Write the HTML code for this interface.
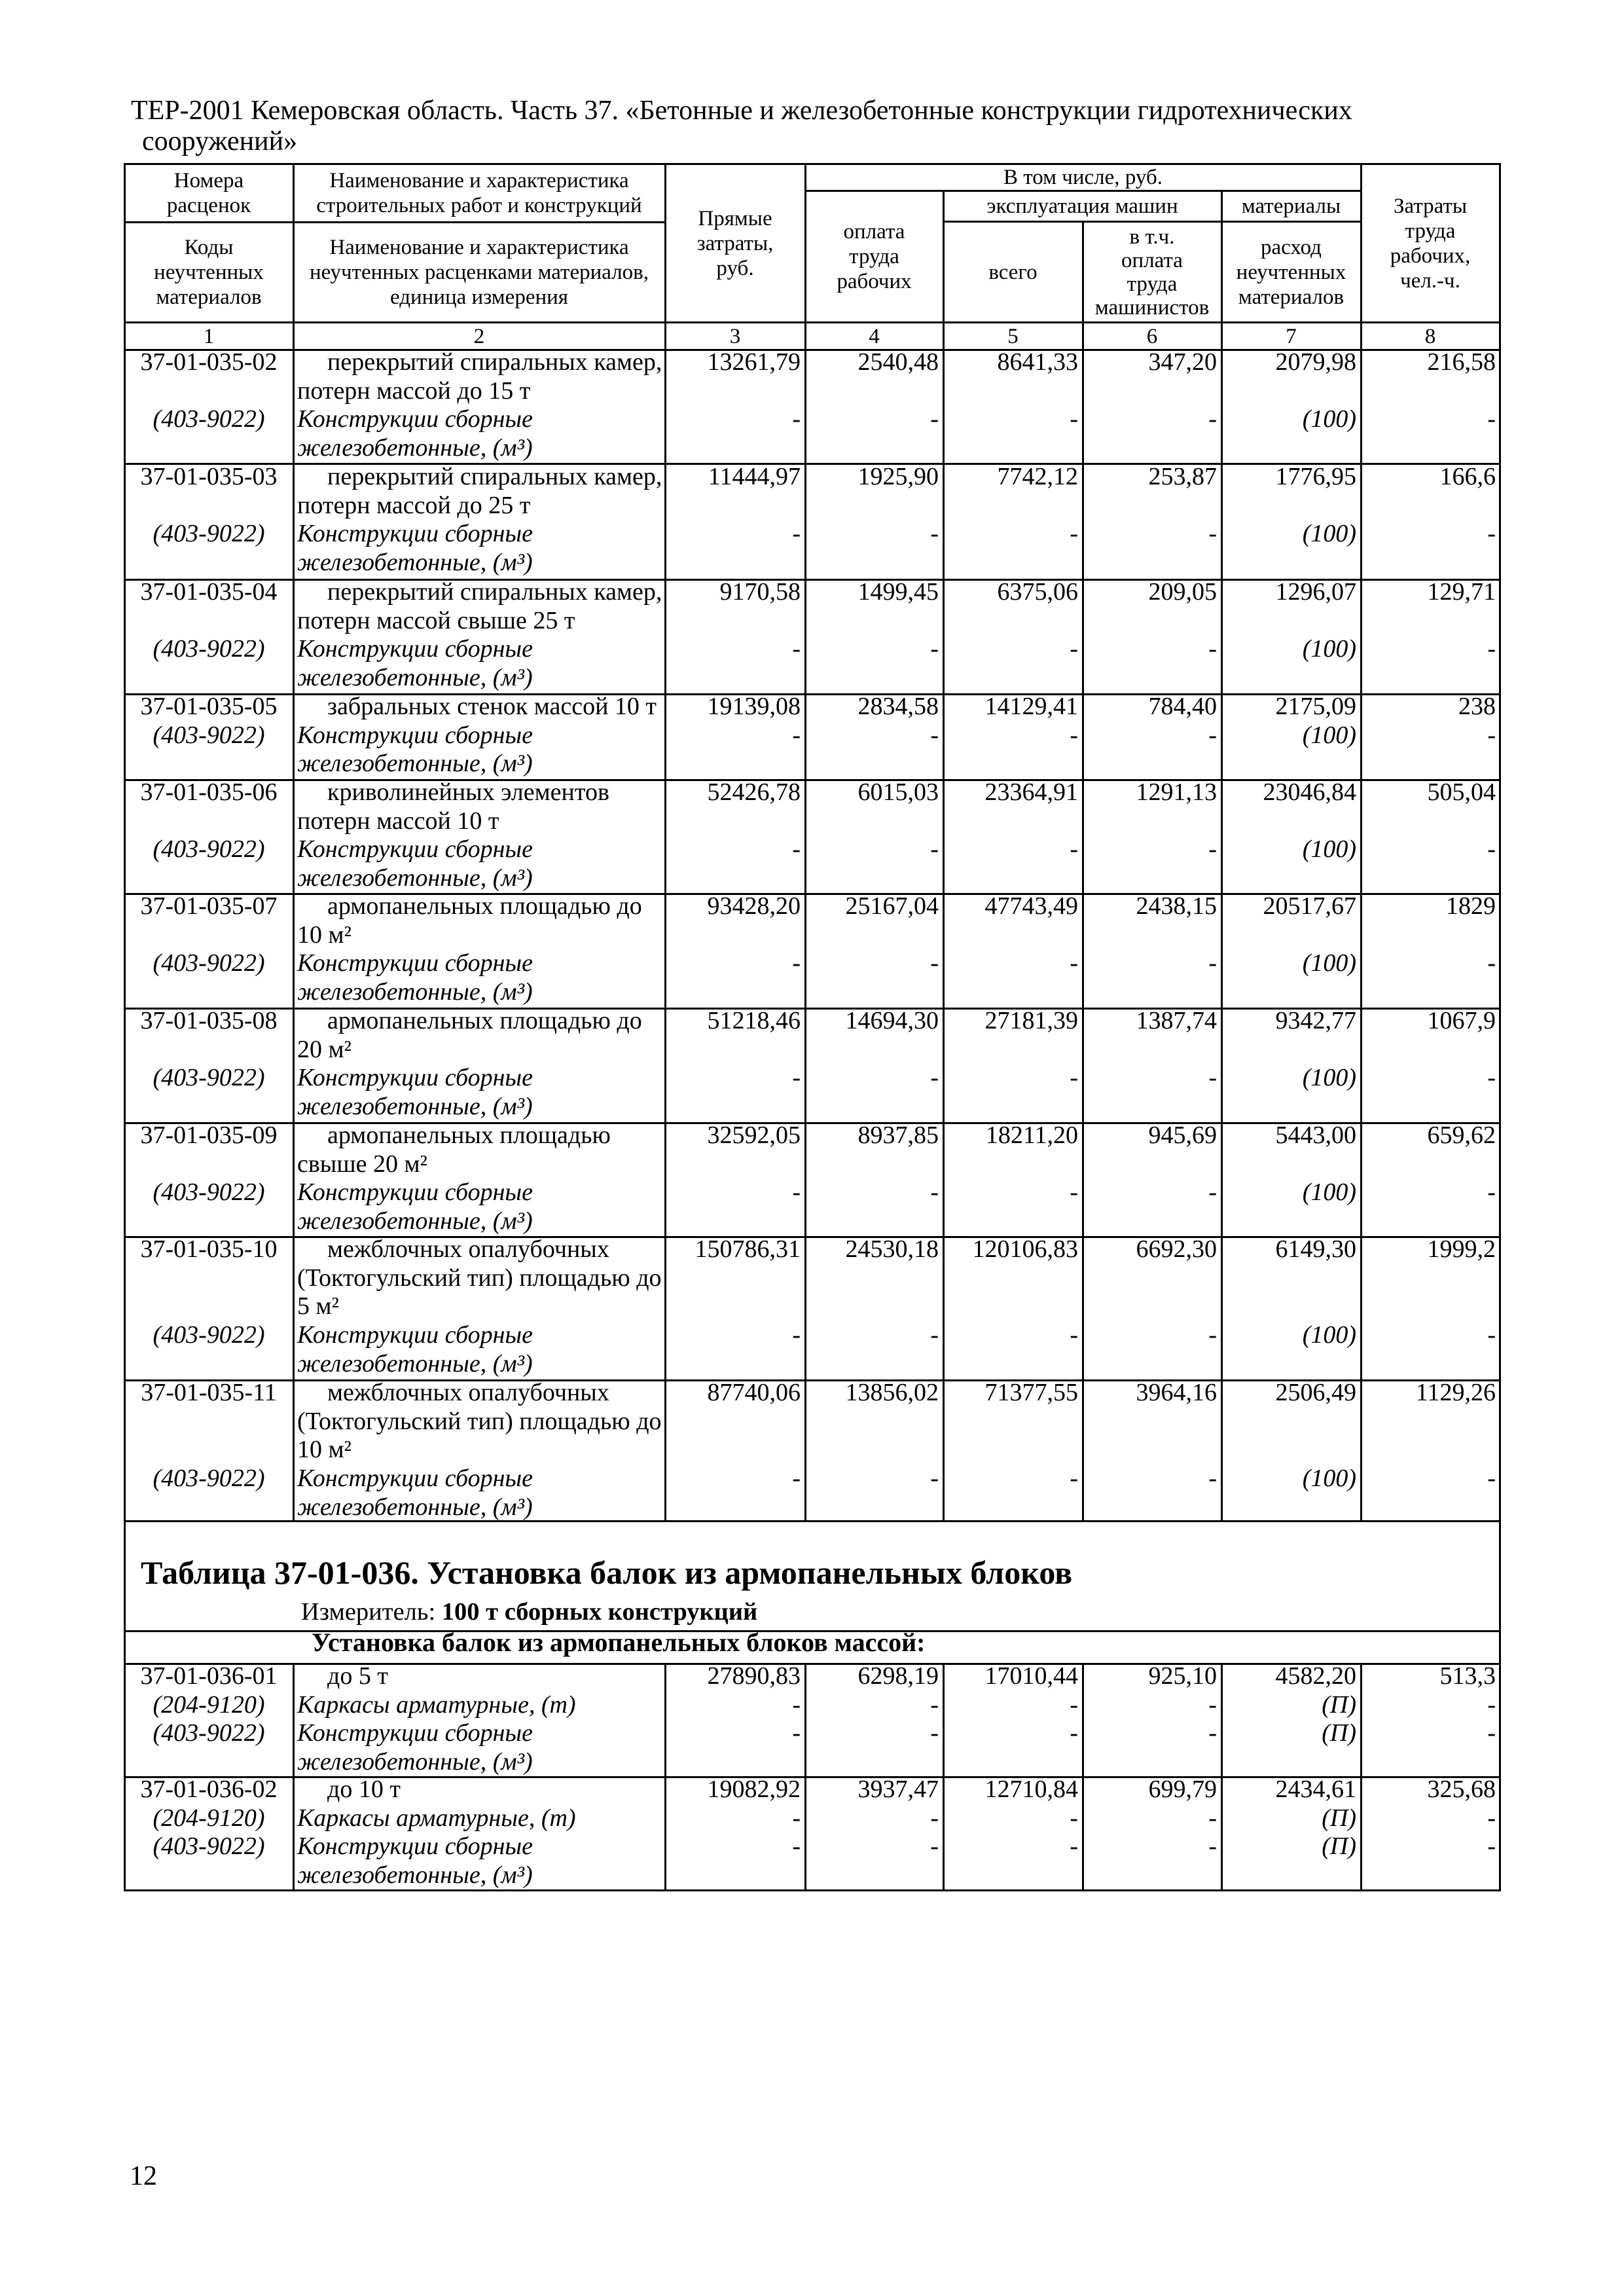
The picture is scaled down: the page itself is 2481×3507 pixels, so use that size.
<!DOCTYPE html>
<html><head><meta charset="utf-8">
<style>
*{margin:0;padding:0}
body{width:2481px;height:3507px;background:#fff;position:relative;overflow:hidden;font-family:"Liberation Serif","DejaVu Serif",serif;color:#000}
.h,.v{position:absolute;background:#000}
.h{height:3px}
.v{width:3px}
.t{position:absolute;white-space:nowrap}
.c{position:absolute;font-size:38px;line-height:43.7px;white-space:nowrap}
.c1{left:192px;width:254px;text-align:center}
.c2{left:454px;width:560px}
.c3{left:1016px;width:207px;text-align:right}
.c4{left:1230px;width:204px;text-align:right}
.c5{left:1441px;width:206px;text-align:right}
.c6{left:1654px;width:205px;text-align:right}
.c7{left:1866px;width:206px;text-align:right}
.c8{left:2079px;width:206px;text-align:right}
.ind{padding-left:46px}
.hd{position:absolute;display:flex;align-items:center;justify-content:center;text-align:center;font-size:33px;line-height:38px}
i{font-style:italic}
</style></head><body>

<div class="t" style="left:200px;top:145px;font-size:42px;line-height:48px">ТЕР-2001 Кемеровская область. Часть 37. «Бетонные и железобетонные конструкции гидротехнических</div>
<div class="t" style="left:217px;top:192px;font-size:42px;line-height:48px">сооружений»</div>

<div class="h" style="left:189px;width:2104px;top:249px"></div>
<div class="h" style="left:1230px;width:850px;top:290px"></div>
<div class="h" style="left:1441px;width:639px;top:337px"></div>
<div class="h" style="left:189px;width:828px;top:338px"></div>
<div class="h" style="left:189px;width:2104px;top:491px"></div>
<div class="h" style="left:189px;width:2104px;top:533px"></div>
<div class="h" style="left:189px;width:2104px;top:707px"></div>
<div class="h" style="left:189px;width:2104px;top:884px"></div>
<div class="h" style="left:189px;width:2104px;top:1059px"></div>
<div class="h" style="left:189px;width:2104px;top:1190px"></div>
<div class="h" style="left:189px;width:2104px;top:1364px"></div>
<div class="h" style="left:189px;width:2104px;top:1539px"></div>
<div class="h" style="left:189px;width:2104px;top:1714px"></div>
<div class="h" style="left:189px;width:2104px;top:1888px"></div>
<div class="h" style="left:189px;width:2104px;top:2107px"></div>
<div class="h" style="left:189px;width:2104px;top:2322px"></div>
<div class="h" style="left:189px;width:2104px;top:2490px"></div>
<div class="h" style="left:189px;width:2104px;top:2540px"></div>
<div class="h" style="left:189px;width:2104px;top:2713px"></div>
<div class="h" style="left:189px;width:2104px;top:2886px"></div>

<div class="v" style="left:189px;top:249px;height:2640px"></div>
<div class="v" style="left:2290px;top:249px;height:2640px"></div>
<div class="v" style="left:447px;top:249px;height:2075px"></div>
<div class="v" style="left:1015px;top:249px;height:2075px"></div>
<div class="v" style="left:1229px;top:249px;height:2075px"></div>
<div class="v" style="left:1440px;top:290px;height:2034px"></div>
<div class="v" style="left:1653px;top:337px;height:1987px"></div>
<div class="v" style="left:1865px;top:290px;height:2034px"></div>
<div class="v" style="left:2078px;top:249px;height:2075px"></div>
<div class="v" style="left:447px;top:2540px;height:348px"></div>
<div class="v" style="left:1015px;top:2540px;height:348px"></div>
<div class="v" style="left:1229px;top:2540px;height:348px"></div>
<div class="v" style="left:1440px;top:2540px;height:348px"></div>
<div class="v" style="left:1653px;top:2540px;height:348px"></div>
<div class="v" style="left:1865px;top:2540px;height:348px"></div>
<div class="v" style="left:2078px;top:2540px;height:348px"></div>

<div class="hd" style="left:190px;width:258px;top:251px;height:88px">Номера<br>расценок</div>
<div class="hd" style="left:448px;width:568px;top:251px;height:88px">Наименование и характеристика<br>строительных работ и конструкций</div>
<div class="hd" style="left:190px;width:258px;top:340px;height:152px">Коды<br>неучтенных<br>материалов</div>
<div class="hd" style="left:448px;width:568px;top:340px;height:152px">Наименование и характеристика<br>неучтенных расценками материалов,<br>единица измерения</div>
<div class="hd" style="left:1016px;width:214px;top:251px;height:241px">Прямые<br>затраты,<br>руб.</div>
<div class="hd" style="left:1230px;width:849px;top:251px;height:40px">В том числе, руб.</div>
<div class="hd" style="left:1230px;width:211px;top:292px;height:200px">оплата<br>труда<br>рабочих</div>
<div class="hd" style="left:1441px;width:425px;top:292px;height:46px">эксплуатация машин</div>
<div class="hd" style="left:1866px;width:213px;top:292px;height:46px">материалы</div>
<div class="hd" style="left:1441px;width:213px;top:339px;height:153px">всего</div>
<div class="hd" style="left:1654px;width:212px;top:339px;height:153px;line-height:36px">в т.ч.<br>оплата<br>труда<br>машинистов</div>
<div class="hd" style="left:1866px;width:213px;top:339px;height:153px">расход<br>неучтенных<br>материалов</div>
<div class="hd" style="left:2079px;width:212px;top:251px;height:241px">Затраты<br>труда<br>рабочих,<br>чел.-ч.</div>

<div class="hd" style="left:190px;width:258px;top:493px;height:41px">1</div>
<div class="hd" style="left:448px;width:568px;top:493px;height:41px">2</div>
<div class="hd" style="left:1016px;width:214px;top:493px;height:41px">3</div>
<div class="hd" style="left:1230px;width:211px;top:493px;height:41px">4</div>
<div class="hd" style="left:1441px;width:213px;top:493px;height:41px">5</div>
<div class="hd" style="left:1654px;width:212px;top:493px;height:41px">6</div>
<div class="hd" style="left:1866px;width:213px;top:493px;height:41px">7</div>
<div class="hd" style="left:2079px;width:212px;top:493px;height:41px">8</div>

<div class="c c1" style="top:532px">37-01-035-02<br><br><i>(403-9022)</i></div>
<div class="c c2" style="top:532px"><span class="ind">перекрытий спиральных камер,</span><br>потерн массой до 15 т<br><i>Конструкции сборные<br>железобетонные, (м³)</i></div>
<div class="c c3" style="top:532px">13261,79<br><br>-</div>
<div class="c c4" style="top:532px">2540,48<br><br>-</div>
<div class="c c5" style="top:532px">8641,33<br><br>-</div>
<div class="c c6" style="top:532px">347,20<br><br>-</div>
<div class="c c7" style="top:532px">2079,98<br><br><i>(100)</i></div>
<div class="c c8" style="top:532px">216,58<br><br>-</div>

<div class="c c1" style="top:707px">37-01-035-03<br><br><i>(403-9022)</i></div>
<div class="c c2" style="top:707px"><span class="ind">перекрытий спиральных камер,</span><br>потерн массой до 25 т<br><i>Конструкции сборные<br>железобетонные, (м³)</i></div>
<div class="c c3" style="top:707px">11444,97<br><br>-</div>
<div class="c c4" style="top:707px">1925,90<br><br>-</div>
<div class="c c5" style="top:707px">7742,12<br><br>-</div>
<div class="c c6" style="top:707px">253,87<br><br>-</div>
<div class="c c7" style="top:707px">1776,95<br><br><i>(100)</i></div>
<div class="c c8" style="top:707px">166,6<br><br>-</div>

<div class="c c1" style="top:883px">37-01-035-04<br><br><i>(403-9022)</i></div>
<div class="c c2" style="top:883px"><span class="ind">перекрытий спиральных камер,</span><br>потерн массой свыше 25 т<br><i>Конструкции сборные<br>железобетонные, (м³)</i></div>
<div class="c c3" style="top:883px">9170,58<br><br>-</div>
<div class="c c4" style="top:883px">1499,45<br><br>-</div>
<div class="c c5" style="top:883px">6375,06<br><br>-</div>
<div class="c c6" style="top:883px">209,05<br><br>-</div>
<div class="c c7" style="top:883px">1296,07<br><br><i>(100)</i></div>
<div class="c c8" style="top:883px">129,71<br><br>-</div>

<div class="c c1" style="top:1058px">37-01-035-05<br><i>(403-9022)</i></div>
<div class="c c2" style="top:1058px"><span class="ind">забральных стенок массой 10 т</span><br><i>Конструкции сборные<br>железобетонные, (м³)</i></div>
<div class="c c3" style="top:1058px">19139,08<br>-</div>
<div class="c c4" style="top:1058px">2834,58<br>-</div>
<div class="c c5" style="top:1058px">14129,41<br>-</div>
<div class="c c6" style="top:1058px">784,40<br>-</div>
<div class="c c7" style="top:1058px">2175,09<br><i>(100)</i></div>
<div class="c c8" style="top:1058px">238<br>-</div>

<div class="c c1" style="top:1189px">37-01-035-06<br><br><i>(403-9022)</i></div>
<div class="c c2" style="top:1189px"><span class="ind">криволинейных элементов</span><br>потерн массой 10 т<br><i>Конструкции сборные<br>железобетонные, (м³)</i></div>
<div class="c c3" style="top:1189px">52426,78<br><br>-</div>
<div class="c c4" style="top:1189px">6015,03<br><br>-</div>
<div class="c c5" style="top:1189px">23364,91<br><br>-</div>
<div class="c c6" style="top:1189px">1291,13<br><br>-</div>
<div class="c c7" style="top:1189px">23046,84<br><br><i>(100)</i></div>
<div class="c c8" style="top:1189px">505,04<br><br>-</div>

<div class="c c1" style="top:1363px">37-01-035-07<br><br><i>(403-9022)</i></div>
<div class="c c2" style="top:1363px"><span class="ind">армопанельных площадью до</span><br>10 м²<br><i>Конструкции сборные<br>железобетонные, (м³)</i></div>
<div class="c c3" style="top:1363px">93428,20<br><br>-</div>
<div class="c c4" style="top:1363px">25167,04<br><br>-</div>
<div class="c c5" style="top:1363px">47743,49<br><br>-</div>
<div class="c c6" style="top:1363px">2438,15<br><br>-</div>
<div class="c c7" style="top:1363px">20517,67<br><br><i>(100)</i></div>
<div class="c c8" style="top:1363px">1829<br><br>-</div>

<div class="c c1" style="top:1538px">37-01-035-08<br><br><i>(403-9022)</i></div>
<div class="c c2" style="top:1538px"><span class="ind">армопанельных площадью до</span><br>20 м²<br><i>Конструкции сборные<br>железобетонные, (м³)</i></div>
<div class="c c3" style="top:1538px">51218,46<br><br>-</div>
<div class="c c4" style="top:1538px">14694,30<br><br>-</div>
<div class="c c5" style="top:1538px">27181,39<br><br>-</div>
<div class="c c6" style="top:1538px">1387,74<br><br>-</div>
<div class="c c7" style="top:1538px">9342,77<br><br><i>(100)</i></div>
<div class="c c8" style="top:1538px">1067,9<br><br>-</div>

<div class="c c1" style="top:1713px">37-01-035-09<br><br><i>(403-9022)</i></div>
<div class="c c2" style="top:1713px"><span class="ind">армопанельных площадью</span><br>свыше 20 м²<br><i>Конструкции сборные<br>железобетонные, (м³)</i></div>
<div class="c c3" style="top:1713px">32592,05<br><br>-</div>
<div class="c c4" style="top:1713px">8937,85<br><br>-</div>
<div class="c c5" style="top:1713px">18211,20<br><br>-</div>
<div class="c c6" style="top:1713px">945,69<br><br>-</div>
<div class="c c7" style="top:1713px">5443,00<br><br><i>(100)</i></div>
<div class="c c8" style="top:1713px">659,62<br><br>-</div>

<div class="c c1" style="top:1887px">37-01-035-10<br><br><br><i>(403-9022)</i></div>
<div class="c c2" style="top:1887px"><span class="ind">межблочных опалубочных</span><br>(Токтогульский тип) площадью до<br>5 м²<br><i>Конструкции сборные<br>железобетонные, (м³)</i></div>
<div class="c c3" style="top:1887px">150786,31<br><br><br>-</div>
<div class="c c4" style="top:1887px">24530,18<br><br><br>-</div>
<div class="c c5" style="top:1887px">120106,83<br><br><br>-</div>
<div class="c c6" style="top:1887px">6692,30<br><br><br>-</div>
<div class="c c7" style="top:1887px">6149,30<br><br><br><i>(100)</i></div>
<div class="c c8" style="top:1887px">1999,2<br><br><br>-</div>

<div class="c c1" style="top:2106px">37-01-035-11<br><br><br><i>(403-9022)</i></div>
<div class="c c2" style="top:2106px"><span class="ind">межблочных опалубочных</span><br>(Токтогульский тип) площадью до<br>10 м²<br><i>Конструкции сборные<br>железобетонные, (м³)</i></div>
<div class="c c3" style="top:2106px">87740,06<br><br><br>-</div>
<div class="c c4" style="top:2106px">13856,02<br><br><br>-</div>
<div class="c c5" style="top:2106px">71377,55<br><br><br>-</div>
<div class="c c6" style="top:2106px">3964,16<br><br><br>-</div>
<div class="c c7" style="top:2106px">2506,49<br><br><br><i>(100)</i></div>
<div class="c c8" style="top:2106px">1129,26<br><br><br>-</div>

<div class="t" style="left:215px;top:2377px;font-size:50px;line-height:50px;font-weight:bold">Таблица 37-01-036. Установка балок из армопанельных блоков</div>
<div class="t" style="left:460px;top:2440px;font-size:38.5px;line-height:44px">Измеритель: <b>100 т сборных конструкций</b></div>
<div class="t" style="left:476px;top:2487px;font-size:40px;line-height:44px;font-weight:bold">Установка балок из армопанельных блоков массой:</div>

<div class="c c1" style="top:2539px">37-01-036-01<br><i>(204-9120)<br>(403-9022)</i></div>
<div class="c c2" style="top:2539px"><span class="ind">до 5 т</span><br><i>Каркасы арматурные, (т)<br>Конструкции сборные<br>железобетонные, (м³)</i></div>
<div class="c c3" style="top:2539px">27890,83<br>-<br>-</div>
<div class="c c4" style="top:2539px">6298,19<br>-<br>-</div>
<div class="c c5" style="top:2539px">17010,44<br>-<br>-</div>
<div class="c c6" style="top:2539px">925,10<br>-<br>-</div>
<div class="c c7" style="top:2539px">4582,20<br><i>(П)<br>(П)</i></div>
<div class="c c8" style="top:2539px">513,3<br>-<br>-</div>

<div class="c c1" style="top:2712px">37-01-036-02<br><i>(204-9120)<br>(403-9022)</i></div>
<div class="c c2" style="top:2712px"><span class="ind">до 10 т</span><br><i>Каркасы арматурные, (т)<br>Конструкции сборные<br>железобетонные, (м³)</i></div>
<div class="c c3" style="top:2712px">19082,92<br>-<br>-</div>
<div class="c c4" style="top:2712px">3937,47<br>-<br>-</div>
<div class="c c5" style="top:2712px">12710,84<br>-<br>-</div>
<div class="c c6" style="top:2712px">699,79<br>-<br>-</div>
<div class="c c7" style="top:2712px">2434,61<br><i>(П)<br>(П)</i></div>
<div class="c c8" style="top:2712px">325,68<br>-<br>-</div>

<div class="t" style="left:198px;top:3300px;font-size:42px;line-height:48px">12</div>
</body></html>
